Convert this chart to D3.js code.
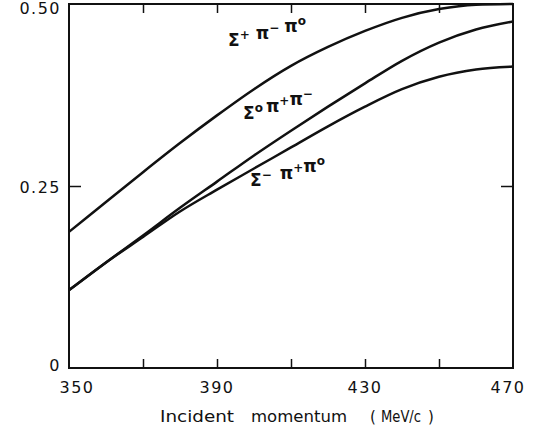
<!DOCTYPE html>
<html>
<head>
<meta charset="utf-8">
<script src="https://cdn.jsdelivr.net/npm/d3@7"></script>
<style>
  body { margin: 0; background: #fff; }
  svg { display: block; }
  .tick-label { font-family: 'DejaVu Sans', sans-serif; font-size: 16px; letter-spacing: 1.5px; fill: #111; }
  .axis-title { font-family: 'DejaVu Sans', sans-serif; font-size: 15px; fill: #111; }
  .curve-label { font-family: 'DejaVu Sans', sans-serif; font-size: 17px; font-weight: bold; fill: #111; }
</style>
</head>
<body>
<div class="chart"></div>
<script>
const svgWidth = 534;
const svgHeight = 429;

// incident momentum (MeV/c)
const momentum = [350, 360, 370, 380, 390, 400, 410, 420, 430, 440, 450, 460, 470];

const sigmaPlus = [0.187, 0.228, 0.269, 0.309, 0.347, 0.383, 0.415, 0.441, 0.463, 0.481, 0.493, 0.499, 0.500];
const sigmaZero = [0.107, 0.145, 0.182, 0.220, 0.256, 0.292, 0.326, 0.359, 0.391, 0.422, 0.447, 0.465, 0.476];
const sigmaMinus = [0.107, 0.145, 0.180, 0.215, 0.245, 0.274, 0.303, 0.332, 0.359, 0.383, 0.400, 0.410, 0.414];

const xTicks = [350, 370, 390, 410, 430, 450, 470];
const xTickLabels = [350, 390, 430, 470];
const yTicks = [0, 0.25, 0.5];
const yTickLabels = ['0', '0.25', '0.50'];

const margin = { top: 4, right: 21, bottom: 61, left: 69 };
const width = svgWidth - margin.left - margin.right;
const height = svgHeight - margin.top - margin.bottom;

const svg = d3.select('.chart')
  .append('svg')
  .attr('width', svgWidth)
  .attr('height', svgHeight);

const chartGroup = svg.append('g')
  .attr('transform', `translate(${margin.left}, ${margin.top})`);

const x = d3.scaleLinear().domain([350, 470]).range([0, width]);
const y = d3.scaleLinear().domain([0, 0.5]).range([height, 0]);

// frame
chartGroup.append('rect')
  .attr('width', width)
  .attr('height', height)
  .attr('fill', 'none')
  .attr('stroke', '#111')
  .attr('stroke-width', 2);

// inward ticks on all four sides
const tickLen = 9;
chartGroup.append('g')
  .attr('transform', `translate(0, ${height})`)
  .call(d3.axisTop(x).tickValues(xTicks.slice(1, -1)).tickSize(tickLen).tickFormat(''))
  .call(g => g.select('.domain').remove());
chartGroup.append('g')
  .call(d3.axisBottom(x).tickValues(xTicks.slice(1, -1)).tickSize(tickLen).tickFormat(''))
  .call(g => g.select('.domain').remove());
chartGroup.append('g')
  .call(d3.axisRight(y).tickValues([0.25]).tickSize(12).tickFormat(''))
  .call(g => g.select('.domain').remove());
chartGroup.append('g')
  .attr('transform', `translate(${width}, 0)`)
  .call(d3.axisLeft(y).tickValues([0.25]).tickSize(12).tickFormat(''))
  .call(g => g.select('.domain').remove());
chartGroup.selectAll('.tick line').attr('stroke', '#111').attr('stroke-width', 1.5);

// tick labels
chartGroup.selectAll('.x-label')
  .data(xTickLabels)
  .enter()
  .append('text')
  .attr('class', 'tick-label')
  .attr('x', (d, i) => x(d) + (i === 0 ? 8 : i === xTickLabels.length - 1 ? -5 : 0))
  .attr('y', height + 25)
  .attr('text-anchor', 'middle')
  .text(d => d);

chartGroup.selectAll('.y-label')
  .data(yTicks)
  .enter()
  .append('text')
  .attr('class', 'tick-label')
  .attr('x', -8)
  .attr('y', d => y(d) + (d === 0 ? 3 : d === 0.5 ? 10 : 7))
  .attr('text-anchor', 'end')
  .text((d, i) => yTickLabels[i]);

// axis title, spaced out like the original typesetting
const titleParts = [['Incident', 160, 74], ['momentum', 251, 96], ['(', 370, 0], ['MeV/c', 381, 40], [')', 428, 0]];
titleParts.forEach(p => {
  const t = svg.append('text')
    .attr('class', 'axis-title')
    .attr('x', p[1])
    .attr('y', 422)
    .text(p[0]);
  if (p[2]) t.attr('textLength', p[2]).attr('lengthAdjust', 'spacingAndGlyphs');
});

// curves
const line = d3.line()
  .x(d => x(d[0]))
  .y(d => y(d[1]))
  .curve(d3.curveMonotoneX);

[sigmaPlus, sigmaZero, sigmaMinus].forEach(series => {
  chartGroup.append('path')
    .datum(momentum.map((m, i) => [m, series[i]]))
    .attr('d', line)
    .attr('fill', 'none')
    .attr('stroke', '#111')
    .attr('stroke-width', 2.5);
});

// curve labels: [symbol, superscript, gap before]
function addLabel(parts, lx, ly) {
  const t = chartGroup.append('text')
    .attr('class', 'curve-label')
    .attr('x', lx)
    .attr('y', ly);
  parts.forEach(p => {
    t.append('tspan').attr('dx', p[2] || 0).text(p[0]);
    t.append('tspan').attr('dy', -7).attr('font-size', 12).text(p[1]);
    t.append('tspan').attr('dy', 7).text('');
  });
}

addLabel([['Σ', '+'], ['π', '−', 6], ['π', 'o', 5]], 228 - margin.left, 46 - margin.top);
addLabel([['Σ', 'o'], ['π', '+', 3], ['π', '−']], 243 - margin.left, 119 - margin.top);
addLabel([['Σ', '−'], ['π', '+', 8], ['π', 'o']], 250 - margin.left, 186 - margin.top);
</script>
</body>
</html>
